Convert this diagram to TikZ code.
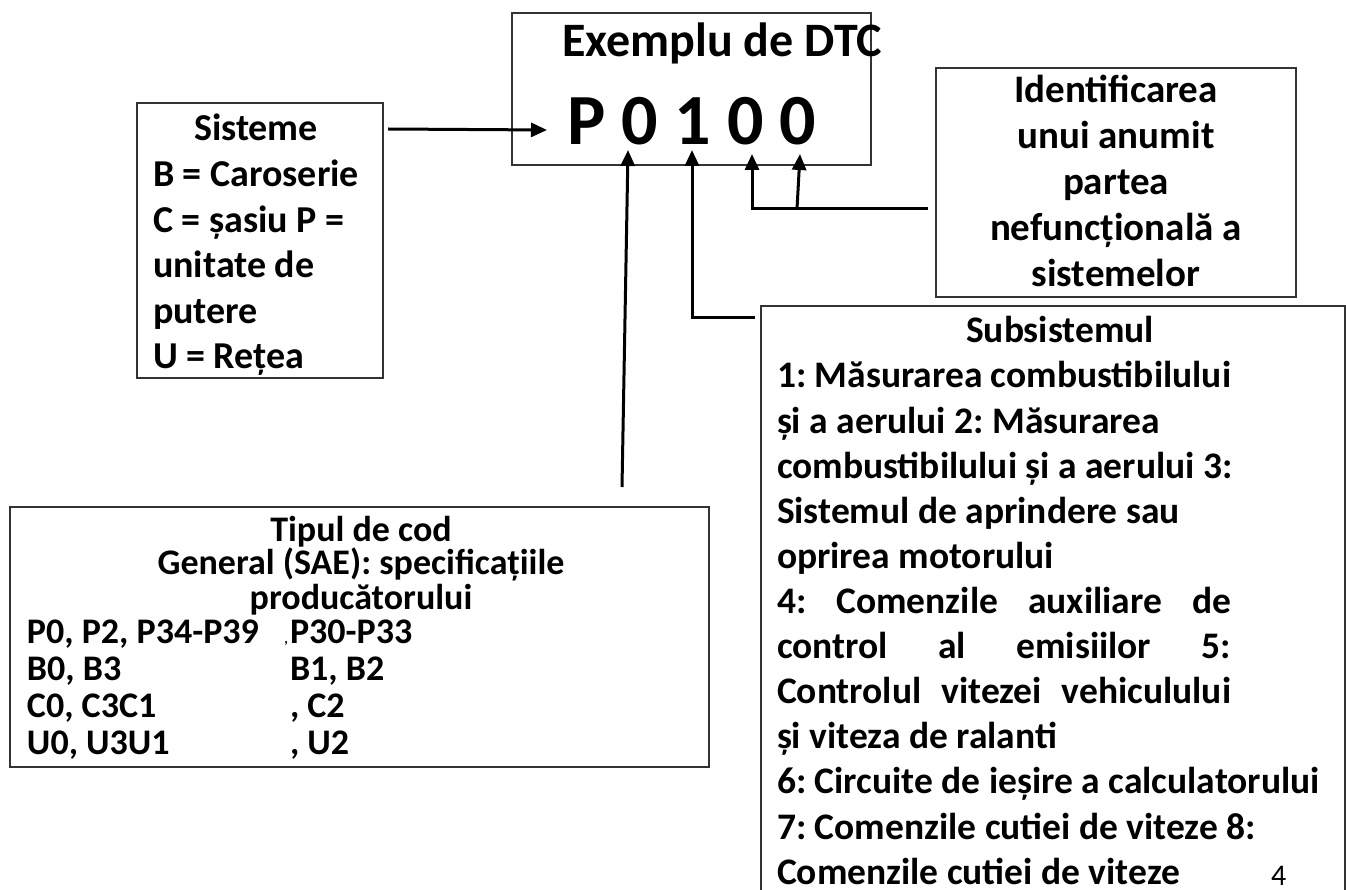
\documentclass[tikz,border=0pt]{standalone}
\usepackage{fontspec}
\setmainfont{Carlito}
\usetikzlibrary{arrows.meta}
\newlength\jw
\begin{document}
\frenchspacing
\begin{tikzpicture}[x=1pt,y=-1pt,
  box/.style={draw=black!80, line width=1.1pt, inner sep=0pt, outer sep=0pt, anchor=north west},
  txt/.style={inner sep=0pt, outer sep=0pt, anchor=base west, font=\bfseries},
  arr/.style={line width=3pt, -{Triangle[length=16pt,width=14pt]}},
  ln/.style={line width=3pt}]
\useasboundingbox (0,0) rectangle (1346,890);
% boxes
\node[box, minimum width=359, minimum height=152] (top) at (512,13) {};
\node[box, minimum width=246, minimum height=275] (sist) at (137,103) {};
\node[box, minimum width=360, minimum height=229] (ident) at (936,68) {};
\node[box, minimum width=699, minimum height=260] (tip) at (10,507) {};
\node[box, minimum width=584, minimum height=600] (sub) at (761,306) {};
% top box text
\node[txt] (ex) at (562,57) {\fontsize{48}{50}\selectfont Exemplu de DTC};
\node[txt] (code) at (567,145) {\fontsize{72}{80}\selectfont P 0 1 0 0};
% sisteme
\node[txt, anchor=base] (sisth) at (256,141) {\fontsize{38}{45.5}\selectfont Sisteme};
\node[txt] (sistb) at (153,187) {\parbox[t]{300pt}{\fontsize{38}{45.5}\selectfont B = Caroserie\\ C = șasiu P =\\ unitate de\\ putere\\ U = Rețea}};
% identificarea
\node[txt, anchor=base] (identt) at (1116,103) {\parbox[t]{350pt}{\centering\fontsize{39}{46}\selectfont Identificarea\\ unui anumit\\ partea\\ nefuncțională a\\ sistemelor}};
% tipul
\node[txt, anchor=base] (tiph) at (361,541) {\parbox[t]{690pt}{\centering\fontsize{36}{30}\selectfont Tipul de cod\\ General (SAE): specificațiile\\[2pt] producătorului}};
\node[txt] (tipa) at (27,643) {\parbox[t]{260pt}{\fontsize{36}{37}\selectfont P0, P2, P34-P39\\ B0, B3\\ C0, C3C1\\ U0, U3U1}};
\node[txt] (tipb) at (290,643) {\parbox[t]{300pt}{\fontsize{36}{37}\selectfont \leavevmode\llap{\fontsize{14}{14}\selectfont,\hspace{2pt}}P30-P33\\ B1, B2\\ , C2\\ , U2}};
% subsistemul
\node[txt, anchor=base] (subh) at (1060,343) {\fontsize{37.5}{45}\selectfont Subsistemul};
\node[txt] (subb) at (777,388) {\parbox[t]{600pt}{\fontsize{37.5}{45.1}\selectfont\settowidth{\jw}{1: Măsurarea combustibilului}%
1: Măsurarea combustibilului\\
și a aerului 2: Măsurarea\\
combustibilului și a aerului 3:\\
Sistemul de aprindere sau\\
oprirea motorului\\
\makebox[\jw][s]{4: Comenzile auxiliare de}\\
\makebox[\jw][s]{control al emisiilor 5:}\\
\makebox[\jw][s]{Controlul vitezei vehiculului}\\
și viteza de ralanti\\
6: Circuite de ieșire a calculatorului\\
7: Comenzile cutiei de viteze 8:\\
Comenzile cutiei de viteze}};
\node[inner sep=0pt, anchor=base west] (pg) at (1271,885) {\fontsize{30}{32}\selectfont 4};
% connector points
\coordinate (s0) at (388,129);
\coordinate (e0) at (547,130);
\coordinate (t0) at (622,487);
\coordinate (c0) at (628,150);
\coordinate (k1) at (755,318);
\coordinate (j1) at (692,318);
\coordinate (c1) at (692,150);
\coordinate (k3) at (928,209);
\coordinate (j3) at (752,209);
\coordinate (c3) at (752,154);
\coordinate (j4) at (797,209);
\coordinate (c4) at (800,154);
\draw[arr] (s0) -- (e0);
\draw[arr] (t0) -- (c0);
\draw[arr] (k1) -- (j1) -- (c1);
\draw[arr] (k3) -- (j3) -- (c3);
\draw[arr] (j4) -- (c4);
\end{tikzpicture}
\end{document}
